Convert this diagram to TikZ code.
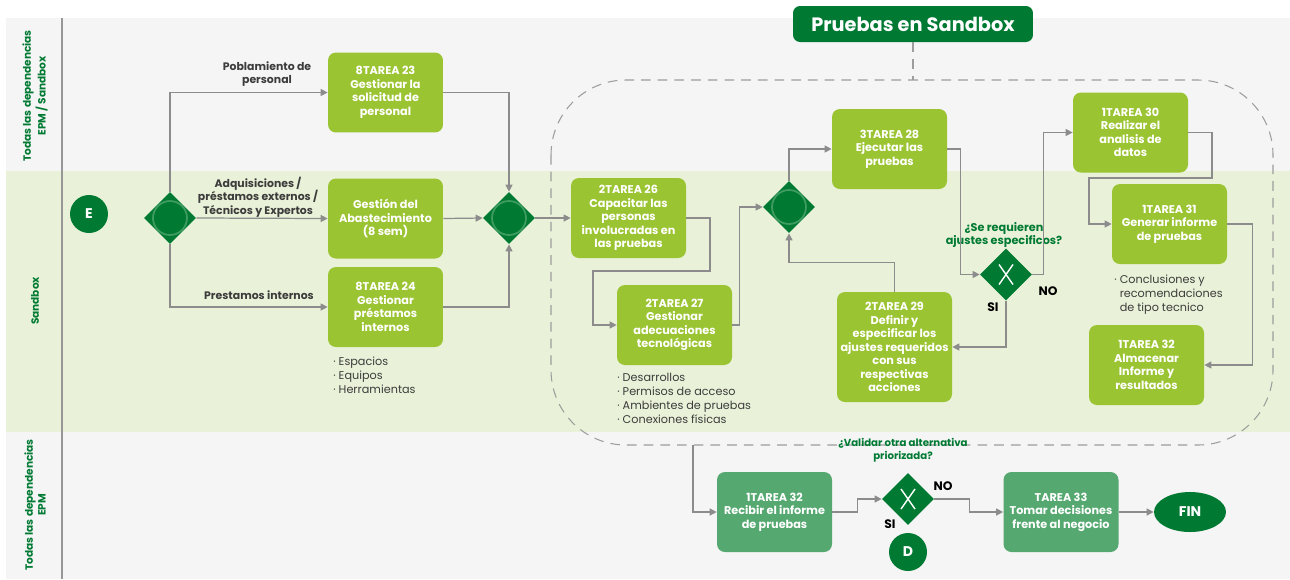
\documentclass[tikz,border=0pt]{standalone}
\usepackage{fontspec}
\setmainfont{Poppins}
\usetikzlibrary{shapes.geometric,arrows.meta,calc}

\definecolor{verdeosc}{HTML}{007A33}
\definecolor{verdetarea}{HTML}{9BC432}
\definecolor{verdeepm}{HTML}{55A870}
\definecolor{carrilgris}{HTML}{F5F5F5}
\definecolor{carrilverde}{HTML}{E9F2D8}
\definecolor{gris}{HTML}{8C8C8C}
\definecolor{textogris}{HTML}{3C3C3C}
\definecolor{anillo}{HTML}{3F9C61}

\tikzset{
    tarea/.style={rectangle, rounded corners=4.5pt, fill=verdetarea, text=white,
        font=\bfseries\fontsize{6.4}{7.7}\selectfont, align=center,
        minimum width=2.3cm, minimum height=1.6cm, inner sep=1pt},
    tareaepm/.style={tarea, fill=verdeepm},
    evento/.style={circle, fill=verdeosc, text=white, font=\bfseries\fontsize{8}{9}\selectfont,
        minimum size=0.76cm, inner sep=0pt},
    finevento/.style={ellipse, fill=verdeosc, text=white, font=\bfseries\fontsize{8}{9}\selectfont,
        minimum width=1.44cm, minimum height=0.8cm, inner sep=0pt},
    compuerta/.style={diamond, fill=verdeosc, minimum width=1.04cm, minimum height=1.04cm, inner sep=0pt,
        path picture={\draw[anillo, line width=1pt] (path picture bounding box.center) circle (0.34cm);}},
    decision/.style={diamond, fill=verdeosc, minimum width=1.04cm, minimum height=1.04cm, inner sep=0pt,
        path picture={
            \draw[white, line width=0.8pt] ([shift={(-7,-10)}]path picture bounding box.center) -- ([shift={(7,10)}]path picture bounding box.center);
            \draw[white, line width=0.8pt] ([shift={(7,-10)}]path picture bounding box.center) -- ([shift={(-7,10)}]path picture bounding box.center);}},
    flujo/.style={draw=gris, line width=0.7pt, -{Triangle[length=4pt,width=4pt]}},
    limite/.style={draw=gris!85, line width=0.6pt, dash pattern=on 5.5pt off 4pt},
    carril/.style={rotate=90, align=center, text=verdeosc, font=\bfseries\fontsize{6}{7.2}\selectfont},
    etiqueta/.style={align=center, text=textogris, font=\bfseries\fontsize{6.2}{7.6}\selectfont, inner sep=0pt},
    pregunta/.style={align=center, text=verdeosc, font=\bfseries\fontsize{6.4}{7.6}\selectfont, inner sep=0pt},
    rama/.style={text=black, font=\bfseries\fontsize{7}{8}\selectfont, inner sep=0pt},
    nota/.style={anchor=north west, align=left, text=textogris, font=\fontsize{6.4}{7.9}\selectfont, inner sep=0pt},
    titulo/.style={rectangle, rounded corners=4pt, fill=verdeosc, text=white,
        font=\bfseries\fontsize{11}{13}\selectfont, minimum width=4.8cm, minimum height=0.72cm}
}

\begin{document}
\begin{tikzpicture}[x=0.02cm, y=-0.02cm]
    % Lanes of the pool
    \useasboundingbox (0,0) rectangle (1290,579);
    \fill[carrilgris] (6,18) rectangle (1290,171);
    \fill[carrilverde] (6,171) rectangle (1290,432);
    \fill[carrilgris] (6,432) rectangle (1290,579);
    \draw[gris!90, line width=0.8pt] (62,18) -- (62,579);

    \node[carril] (carril1) at (35,96) {Todas las dependencias\\EPM / Sandbox};
    \node[carril] (carril2) at (35,301) {Sandbox};
    \node[carril] (carril3) at (35,505) {Todas las dependencias\\EPM};

    % Sandbox sub-process
    \coordinate (sbNO) at (551,80);
    \coordinate (sbSE) at (1273,445);
    \coordinate (salida) at (693,445);
    \draw[limite, rounded corners=1.5cm] (sbNO) rectangle (sbSE);
    \node[titulo] (titulo) at (913,24) {Pruebas en Sandbox};
    \draw[limite] (titulo.south) -- (titulo.south |- sbNO);

    % Events and gateways
    \node[evento] (inicio) at (89,214) {E};
    \node[compuerta] (par1) at (170,218) {};
    \node[compuerta] (par2) at (509,218) {};
    \node[compuerta] (par3) at (789,207) {};
    \node[decision] (dec1) at (1006,274.5) {};
    \node[decision] (dec2) at (908,499) {};
    \node[finevento] (fin) at (1190,512) {FIN};
    \node[evento] (conD) at (908,552) {D};

    % Tasks
    \node[tarea] (t23) at (385.5,92.5) {8TAREA 23\\Gestionar la\\solicitud de\\personal};
    \node[tarea] (abast) at (385.5,218.5) {Gestión del\\Abastecimiento\\(8 sem)};
    \node[tarea] (t24) at (385.5,307) {8TAREA 24\\Gestionar\\préstamos\\internos};
    \node[tarea] (t26) at (628.5,218) {2TAREA 26\\Capacitar las\\personas\\involucradas en\\las pruebas};
    \node[tarea] (t27) at (674.5,325) {2TAREA 27\\Gestionar\\adecuaciones\\tecnológicas};
    \node[tarea] (t28) at (889.5,149) {3TAREA 28\\Ejecutar las\\pruebas};
    \node[tarea, minimum height=2.2cm] (t29) at (894.5,347) {2TAREA 29\\Definir y\\especificar los\\ajustes requeridos\\con sus\\respectivas\\acciones};
    \node[tarea] (t30) at (1130.5,132.5) {1TAREA 30\\Realizar el\\analisis de\\datos};
    \node[tarea] (t31) at (1169.5,224) {1TAREA 31\\Generar informe\\de pruebas};
    \node[tarea] (t32a) at (1146.5,365) {1TAREA 32\\Almacenar\\Informe y\\resultados};
    \node[tareaepm] (t32b) at (774.5,512) {1TAREA 32\\Recibir el informe\\de pruebas};
    \node[tareaepm] (t33) at (1061,512) {TAREA 33\\Tomar decisiones\\frente al negocio};

    % Labels and notes
    \node[etiqueta] (lblpob) at (267,74) {Poblamiento de\\personal};
    \node[etiqueta] (lbladq) at (258,197) {Adquisiciones /\\préstamos externos /\\Técnicos y Expertos};
    \node[etiqueta] (lblpres) at (259,295) {Prestamos internos};
    \node[pregunta] (preg1) at (1004,235) {¿Se requieren\\ajustes especificos?};
    \node[pregunta, font=\bfseries\fontsize{5.8}{7.4}\selectfont] (preg2) at (903,450) {¿Validar otra alternativa\\priorizada?};
    \node[rama] (si1) at (993,307) {SI};
    \node[rama] (no1) at (1048,291) {NO};
    \node[rama] (no2) at (943,486) {NO};
    \node[rama] (si2) at (890,524) {SI};
    \node[nota] (nota24) at (333,357) {· Espacios\\· Equipos\\· Herramientas};
    \node[nota] (nota27) at (617,373) {· Desarrollos\\· Permisos de acceso\\· Ambientes de pruebas\\· Conexiones físicas};
    \node[nota] (nota31) at (1114,275) {· Conclusiones y\\\phantom{· }recomendaciones\\\phantom{· }de tipo tecnico};

    % Sequence flows
    \draw[flujo] (par1.north) |- (t23.west);
    \draw[flujo] (par1.east) -- (abast.west);
    \draw[flujo] (par1.south) |- (t24.west);
    \draw[flujo] (t23.east) -| (par2.north);
    \draw[flujo] (abast.east) -- (par2.west);
    \draw[flujo] (t24.east) -| (par2.south);
    \draw[flujo] (par2.east) -- (t26.west);
    \draw[flujo] (t26.east) -| (710,271) -| (593,325) -- (t27.west);
    \draw[flujo] (t27.east) -- ++(7,0) |- (par3.west);
    \draw[flujo] (par3.north) |- (t28.west);
    \draw[flujo] (t28.east) -- ++(13,0) |- (dec1.west);
    \draw[flujo] (dec1.south) |- (t29.east);
    \draw[flujo] (t29.north) -- ++(0,-29) -| (par3.south);
    \draw[flujo] (dec1.east) -- ++(11,0) |- (t30.west);
    \draw[flujo] (t30.east) -| (1212,178) -| (1089,224) -- (t31.west);
    \draw[flujo] (t31.east) -- ++(25,0) |- (t32a.east);
    \draw[flujo] (salida) |- (t32b.west);
    \draw[flujo] (t32b.east) -- ++(25,0) |- (dec2.west);
    \draw[flujo] (dec2.east) -- ++(35,0) |- (t33.west);
    \draw[flujo] (t33.east) -- (fin.west);
\end{tikzpicture}
\end{document}
